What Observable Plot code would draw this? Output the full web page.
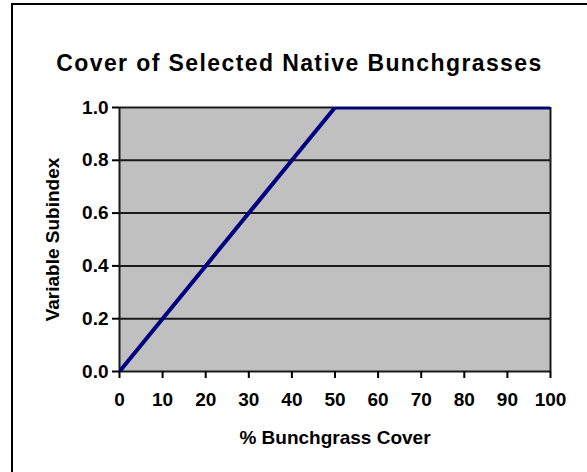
<!DOCTYPE html>
<html><head><meta charset="utf-8">
<script src="https://cdn.jsdelivr.net/npm/d3@7"></script>
<script src="https://cdn.jsdelivr.net/npm/@observablehq/plot@0.6"></script>
<style>
body{margin:0;background:#fff;}
#wrap{position:relative;width:587px;height:472px;overflow:hidden;font-family:"Liberation Sans",Arial,sans-serif;}
#border{position:absolute;left:11px;top:3px;width:620px;height:520px;border:2px solid #000;box-sizing:border-box;}
#title{position:absolute;left:12px;width:575px;top:47px;line-height:32px;text-align:center;font-weight:bold;font-size:23px;letter-spacing:1.4px;color:#000;}
#chart{position:absolute;left:0;top:0;}
#chart svg text{font-weight:bold;}
#chart g[aria-label="x-axis label"] text, #chart g[aria-label="y-axis label"] text{font-size:19px;}
</style></head>
<body>
<div id="wrap">
<div id="border"></div>
<div id="title">Cover of Selected Native Bunchgrasses</div>
<div id="chart"></div>
</div>
<script>
const coverPct = [0, 10, 20, 30, 40, 50, 60, 70, 80, 90, 100];
const subindex = [0, 0.2, 0.4, 0.6, 0.8, 1, 1, 1, 1, 1, 1];
const xTicks = [0, 10, 20, 30, 40, 50, 60, 70, 80, 90, 100];
const yTicks = [0, 0.2, 0.4, 0.6, 0.8, 1.0];
const xLabel = "% Bunchgrass Cover";
const yLabel = "Variable Subindex";

const data = coverPct.map((x, i) => ({x, y: subindex[i]}));

const plot = Plot.plot({
  width: 587,
  height: 472,
  marginTop: 107,
  marginBottom: 101,
  marginLeft: 119,
  marginRight: 37,
  style: {fontFamily: '"Liberation Sans", Arial, sans-serif', fontWeight: "bold", fontSize: "19px", color: "#000", background: "transparent"},
  x: {domain: [0, 100]},
  y: {domain: [0, 1]},
  marks: [
    Plot.frame({fill: "#c0c0c0"}),
    Plot.ruleY(yTicks, {stroke: "#1a1a1a", strokeWidth: 2}),
    Plot.ruleX([0, 100], {stroke: "#1a1a1a", strokeWidth: 2}),
    Plot.axisX({ticks: xTicks, tickSize: 7, tickPadding: 14, tickFormat: d3.format("d"), stroke: "#000", strokeWidth: 2, fontSize: 19,
      label: xLabel, labelAnchor: "center", labelArrow: "none", labelOffset: 72}),
    Plot.axisY({ticks: yTicks, tickSize: 7, tickPadding: 4, tickFormat: d3.format(".1f"), stroke: "#000", strokeWidth: 2, fontSize: 19,
      label: yLabel, labelAnchor: "center", labelArrow: "none", labelOffset: 74}),
    Plot.line(data, {x: "x", y: "y", stroke: "#000080", strokeWidth: 4, clip: true})
  ]
});
document.getElementById("chart").appendChild(plot);
</script>
</body></html>
